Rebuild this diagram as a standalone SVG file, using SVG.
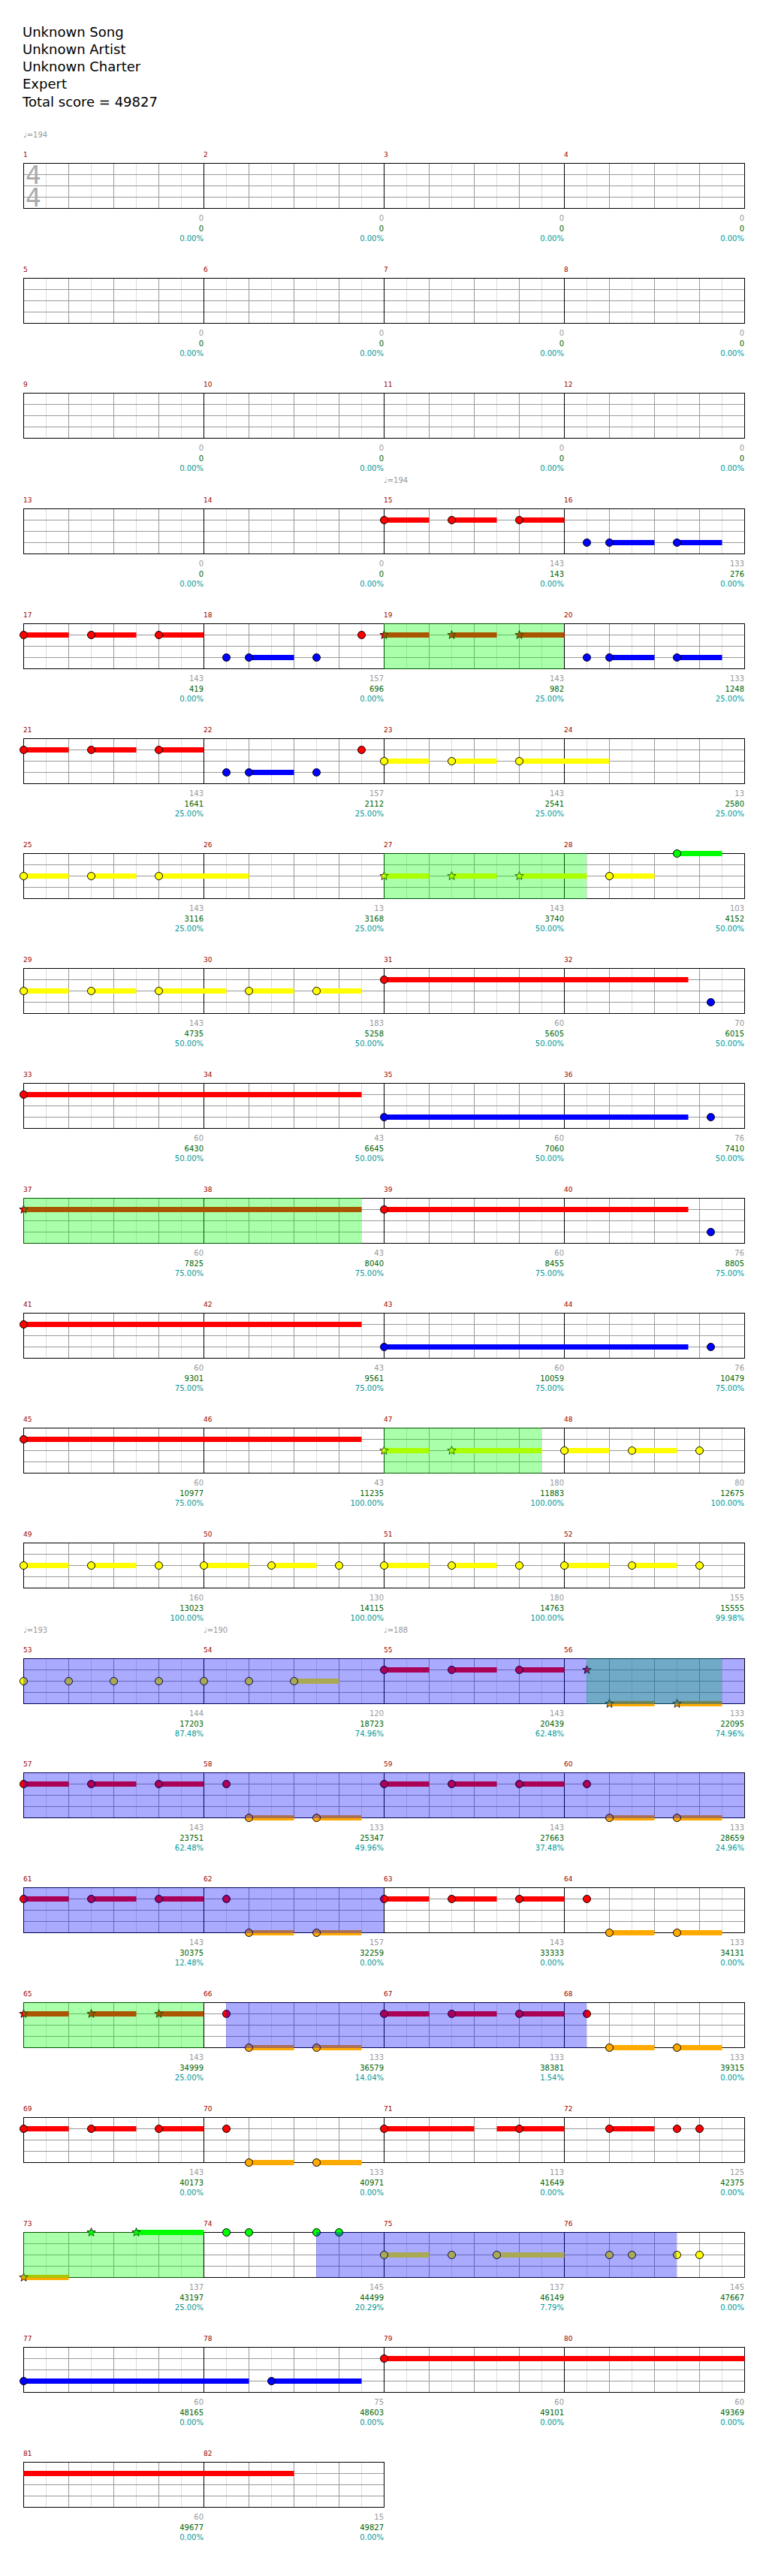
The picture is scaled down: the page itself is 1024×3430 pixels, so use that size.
<svg xmlns="http://www.w3.org/2000/svg" xmlns:xlink="http://www.w3.org/1999/xlink" width="1024" height="3430" viewBox="0 0 1024 3430">
<style>
text{font-family:"DejaVu Sans","Liberation Sans",sans-serif}
.h{font-size:18px;fill:#000}
.mn{font-size:9px;fill:#900}
.tp{font-size:10px;fill:#999}
.ts{font-size:33px;fill:#aaa}
.sc{font-size:10px;text-anchor:end}
.s1{fill:#999}.s2{fill:#006400}.s3{fill:#009999}
.lt{stroke:#ddd;stroke-width:1;fill:none}
.dk{stroke:#999;stroke-width:1;fill:none}
.bl{stroke:#000;stroke-width:1;fill:none}
.sus{stroke-width:7;fill:none}
.R{stroke:#f00}.Y{stroke:#ff0}.B{stroke:#00f}.G{stroke:#0f0}.O{stroke:#fa0}
circle{stroke:#000;stroke-width:1}
.r{fill:#f00}.y{fill:#ff0}.b{fill:#00f}.g{fill:#0f0}.o{fill:#fa0}
.sp{fill:#0f0;fill-opacity:0.333}
.so{fill:#00f;fill-opacity:0.333}
</style>
<defs>
<g id="m">
<path class="lt" d="M30.5 0.5V60.5M90.5 0.5V60.5M150.5 0.5V60.5M210.5 0.5V60.5"/>
<path class="dk" d="M60.5 0.5V60.5M120.5 0.5V60.5M180.5 0.5V60.5M0 15.5H240M0 30.5H240M0 45.5H240"/>
</g>
<g id="st4">
<use xlink:href="#m" x="31"/><use xlink:href="#m" x="271"/><use xlink:href="#m" x="511"/><use xlink:href="#m" x="751"/>
<path class="bl" d="M271.5 0.5V60.5M511.5 0.5V60.5M751.5 0.5V60.5"/>
<rect class="bl" x="31.5" y="0.5" width="960" height="60"/>
</g>
<g id="st2">
<use xlink:href="#m" x="31"/><use xlink:href="#m" x="271"/>
<path class="bl" d="M271.5 0.5V60.5"/>
<rect class="bl" x="31.5" y="0.5" width="480" height="60"/>
</g>
<path id="star" d="M0-6L1.5-2.1L5.7-1.9L2.4 0.8L3.5 4.9L0 2.5L-3.5 4.9L-2.4 0.8L-5.7-1.9L-1.5-2.1Z" stroke="#000" stroke-width="0.8"/>
</defs>

<g id="header">
<text class="h" x="30" y="48.5">Unknown Song</text>
<text class="h" x="30" y="71.8">Unknown Artist</text>
<text class="h" x="30" y="95">Unknown Charter</text>
<text class="h" x="30" y="118.3">Expert</text>
<text class="h" x="30" y="141.5">Total score = 49827</text>
</g>

<g id="row1" transform="translate(0,217)">
<text class="tp" x="31" y="-34.5">♩=194</text>
<use xlink:href="#st4"/>
<text class="ts" x="34" y="28">4</text><text class="ts" x="34" y="58">4</text>
<text class="mn" x="31" y="-8">1</text><text class="mn" x="271" y="-8">2</text><text class="mn" x="511" y="-8">3</text><text class="mn" x="751" y="-8">4</text>
<text class="sc"><tspan class="s1" x="271" y="77">0</tspan><tspan class="s2" x="271" y="90.5">0</tspan><tspan class="s3" x="271" y="104">0.00%</tspan><tspan class="s1" x="511" y="77">0</tspan><tspan class="s2" x="511" y="90.5">0</tspan><tspan class="s3" x="511" y="104">0.00%</tspan><tspan class="s1" x="751" y="77">0</tspan><tspan class="s2" x="751" y="90.5">0</tspan><tspan class="s3" x="751" y="104">0.00%</tspan><tspan class="s1" x="991" y="77">0</tspan><tspan class="s2" x="991" y="90.5">0</tspan><tspan class="s3" x="991" y="104">0.00%</tspan></text>
</g>

<g id="row2" transform="translate(0,370)">
<use xlink:href="#st4"/>
<text class="mn" x="31" y="-8">5</text><text class="mn" x="271" y="-8">6</text><text class="mn" x="511" y="-8">7</text><text class="mn" x="751" y="-8">8</text>
<text class="sc"><tspan class="s1" x="271" y="77">0</tspan><tspan class="s2" x="271" y="90.5">0</tspan><tspan class="s3" x="271" y="104">0.00%</tspan><tspan class="s1" x="511" y="77">0</tspan><tspan class="s2" x="511" y="90.5">0</tspan><tspan class="s3" x="511" y="104">0.00%</tspan><tspan class="s1" x="751" y="77">0</tspan><tspan class="s2" x="751" y="90.5">0</tspan><tspan class="s3" x="751" y="104">0.00%</tspan><tspan class="s1" x="991" y="77">0</tspan><tspan class="s2" x="991" y="90.5">0</tspan><tspan class="s3" x="991" y="104">0.00%</tspan></text>
</g>

<g id="row3" transform="translate(0,523)">
<use xlink:href="#st4"/>
<text class="mn" x="31" y="-8">9</text><text class="mn" x="271" y="-8">10</text><text class="mn" x="511" y="-8">11</text><text class="mn" x="751" y="-8">12</text>
<text class="sc"><tspan class="s1" x="271" y="77">0</tspan><tspan class="s2" x="271" y="90.5">0</tspan><tspan class="s3" x="271" y="104">0.00%</tspan><tspan class="s1" x="511" y="77">0</tspan><tspan class="s2" x="511" y="90.5">0</tspan><tspan class="s3" x="511" y="104">0.00%</tspan><tspan class="s1" x="751" y="77">0</tspan><tspan class="s2" x="751" y="90.5">0</tspan><tspan class="s3" x="751" y="104">0.00%</tspan><tspan class="s1" x="991" y="77">0</tspan><tspan class="s2" x="991" y="90.5">0</tspan><tspan class="s3" x="991" y="104">0.00%</tspan></text>
</g>

<g id="row4" transform="translate(0,677)">
<text class="tp" x="511" y="-34.5">♩=194</text>
<use xlink:href="#st4"/>
<text class="mn" x="31" y="-8">13</text><text class="mn" x="271" y="-8">14</text><text class="mn" x="511" y="-8">15</text><text class="mn" x="751" y="-8">16</text>
<text class="sc"><tspan class="s1" x="271" y="77">0</tspan><tspan class="s2" x="271" y="90.5">0</tspan><tspan class="s3" x="271" y="104">0.00%</tspan><tspan class="s1" x="511" y="77">0</tspan><tspan class="s2" x="511" y="90.5">0</tspan><tspan class="s3" x="511" y="104">0.00%</tspan><tspan class="s1" x="751" y="77">143</tspan><tspan class="s2" x="751" y="90.5">143</tspan><tspan class="s3" x="751" y="104">0.00%</tspan><tspan class="s1" x="991" y="77">133</tspan><tspan class="s2" x="991" y="90.5">276</tspan><tspan class="s3" x="991" y="104">0.00%</tspan></text>
<path class="sus R" d="M511.5 15.5H571.5M601.5 15.5H661.5M691.5 15.5H751.5"/>
<path class="sus B" d="M811.5 45.5H871.5M901.5 45.5H961.5"/>
<circle class="r" cx="511.5" cy="15.5" r="5"/><circle class="r" cx="601.5" cy="15.5" r="5"/><circle class="r" cx="691.5" cy="15.5" r="5"/>
<circle class="b" cx="781.5" cy="45.5" r="5"/><circle class="b" cx="811.5" cy="45.5" r="5"/><circle class="b" cx="901.5" cy="45.5" r="5"/>
</g>

<g id="row5" transform="translate(0,830)">
<use xlink:href="#st4"/>
<text class="mn" x="31" y="-8">17</text><text class="mn" x="271" y="-8">18</text><text class="mn" x="511" y="-8">19</text><text class="mn" x="751" y="-8">20</text>
<text class="sc"><tspan class="s1" x="271" y="77">143</tspan><tspan class="s2" x="271" y="90.5">419</tspan><tspan class="s3" x="271" y="104">0.00%</tspan><tspan class="s1" x="511" y="77">157</tspan><tspan class="s2" x="511" y="90.5">696</tspan><tspan class="s3" x="511" y="104">0.00%</tspan><tspan class="s1" x="751" y="77">143</tspan><tspan class="s2" x="751" y="90.5">982</tspan><tspan class="s3" x="751" y="104">25.00%</tspan><tspan class="s1" x="991" y="77">133</tspan><tspan class="s2" x="991" y="90.5">1248</tspan><tspan class="s3" x="991" y="104">25.00%</tspan></text>
<path class="sus R" d="M31.5 15.5H91.5M121.5 15.5H181.5M211.5 15.5H271.5M511.5 15.5H571.5M601.5 15.5H661.5M691.5 15.5H751.5"/>
<path class="sus B" d="M331.5 45.5H391.5M811.5 45.5H871.5M901.5 45.5H961.5"/>
<circle class="r" cx="31.5" cy="15.5" r="5"/><circle class="r" cx="121.5" cy="15.5" r="5"/><circle class="r" cx="211.5" cy="15.5" r="5"/><circle class="r" cx="481.5" cy="15.5" r="5"/>
<circle class="b" cx="301.5" cy="45.5" r="5"/><circle class="b" cx="331.5" cy="45.5" r="5"/><circle class="b" cx="421.5" cy="45.5" r="5"/>
<circle class="b" cx="781.5" cy="45.5" r="5"/><circle class="b" cx="811.5" cy="45.5" r="5"/><circle class="b" cx="901.5" cy="45.5" r="5"/>
<use xlink:href="#star" x="511.5" y="15.5" fill="#f00"/><use xlink:href="#star" x="601.5" y="15.5" fill="#f00"/><use xlink:href="#star" x="691.5" y="15.5" fill="#f00"/>
<rect class="sp" x="511" y="0" width="240" height="61"/>
</g>

<g id="row6" transform="translate(0,983)">
<use xlink:href="#st4"/>
<text class="mn" x="31" y="-8">21</text><text class="mn" x="271" y="-8">22</text><text class="mn" x="511" y="-8">23</text><text class="mn" x="751" y="-8">24</text>
<text class="sc"><tspan class="s1" x="271" y="77">143</tspan><tspan class="s2" x="271" y="90.5">1641</tspan><tspan class="s3" x="271" y="104">25.00%</tspan><tspan class="s1" x="511" y="77">157</tspan><tspan class="s2" x="511" y="90.5">2112</tspan><tspan class="s3" x="511" y="104">25.00%</tspan><tspan class="s1" x="751" y="77">143</tspan><tspan class="s2" x="751" y="90.5">2541</tspan><tspan class="s3" x="751" y="104">25.00%</tspan><tspan class="s1" x="991" y="77">13</tspan><tspan class="s2" x="991" y="90.5">2580</tspan><tspan class="s3" x="991" y="104">25.00%</tspan></text>
<path class="sus R" d="M31.5 15.5H91.5M121.5 15.5H181.5M211.5 15.5H271.5"/>
<path class="sus B" d="M331.5 45.5H391.5"/>
<path class="sus Y" d="M511.5 30.5H571.5M601.5 30.5H661.5M691.5 30.5H811.5"/>
<circle class="r" cx="31.5" cy="15.5" r="5"/><circle class="r" cx="121.5" cy="15.5" r="5"/><circle class="r" cx="211.5" cy="15.5" r="5"/><circle class="r" cx="481.5" cy="15.5" r="5"/>
<circle class="b" cx="301.5" cy="45.5" r="5"/><circle class="b" cx="331.5" cy="45.5" r="5"/><circle class="b" cx="421.5" cy="45.5" r="5"/>
<circle class="y" cx="511.5" cy="30.5" r="5"/><circle class="y" cx="601.5" cy="30.5" r="5"/><circle class="y" cx="691.5" cy="30.5" r="5"/>
</g>

<g id="row7" transform="translate(0,1136)">
<use xlink:href="#st4"/>
<text class="mn" x="31" y="-8">25</text><text class="mn" x="271" y="-8">26</text><text class="mn" x="511" y="-8">27</text><text class="mn" x="751" y="-8">28</text>
<text class="sc"><tspan class="s1" x="271" y="77">143</tspan><tspan class="s2" x="271" y="90.5">3116</tspan><tspan class="s3" x="271" y="104">25.00%</tspan><tspan class="s1" x="511" y="77">13</tspan><tspan class="s2" x="511" y="90.5">3168</tspan><tspan class="s3" x="511" y="104">25.00%</tspan><tspan class="s1" x="751" y="77">143</tspan><tspan class="s2" x="751" y="90.5">3740</tspan><tspan class="s3" x="751" y="104">50.00%</tspan><tspan class="s1" x="991" y="77">103</tspan><tspan class="s2" x="991" y="90.5">4152</tspan><tspan class="s3" x="991" y="104">50.00%</tspan></text>
<path class="sus Y" d="M31.5 30.5H91.5M121.5 30.5H181.5M211.5 30.5H331.5M511.5 30.5H571.5M601.5 30.5H661.5M691.5 30.5H781.5M811.5 30.5H871.5"/>
<path class="sus G" d="M901.5 0.5H961.5"/>
<circle class="y" cx="31.5" cy="30.5" r="5"/><circle class="y" cx="121.5" cy="30.5" r="5"/><circle class="y" cx="211.5" cy="30.5" r="5"/><circle class="y" cx="811.5" cy="30.5" r="5"/>
<circle class="g" cx="901.5" cy="0.5" r="5"/>
<use xlink:href="#star" x="511.5" y="30.5" fill="#ff0"/><use xlink:href="#star" x="601.5" y="30.5" fill="#ff0"/><use xlink:href="#star" x="691.5" y="30.5" fill="#ff0"/>
<rect class="sp" x="511" y="0" width="270" height="61"/>
</g>

<g id="row8" transform="translate(0,1289)">
<use xlink:href="#st4"/>
<text class="mn" x="31" y="-8">29</text><text class="mn" x="271" y="-8">30</text><text class="mn" x="511" y="-8">31</text><text class="mn" x="751" y="-8">32</text>
<text class="sc"><tspan class="s1" x="271" y="77">143</tspan><tspan class="s2" x="271" y="90.5">4735</tspan><tspan class="s3" x="271" y="104">50.00%</tspan><tspan class="s1" x="511" y="77">183</tspan><tspan class="s2" x="511" y="90.5">5258</tspan><tspan class="s3" x="511" y="104">50.00%</tspan><tspan class="s1" x="751" y="77">60</tspan><tspan class="s2" x="751" y="90.5">5605</tspan><tspan class="s3" x="751" y="104">50.00%</tspan><tspan class="s1" x="991" y="77">70</tspan><tspan class="s2" x="991" y="90.5">6015</tspan><tspan class="s3" x="991" y="104">50.00%</tspan></text>
<path class="sus Y" d="M31.5 30.5H91.5M121.5 30.5H181.5M211.5 30.5H301.5M331.5 30.5H391.5M421.5 30.5H481.5"/>
<path class="sus R" d="M511.5 15.5H916.5"/>
<circle class="y" cx="31.5" cy="30.5" r="5"/><circle class="y" cx="121.5" cy="30.5" r="5"/><circle class="y" cx="211.5" cy="30.5" r="5"/><circle class="y" cx="331.5" cy="30.5" r="5"/><circle class="y" cx="421.5" cy="30.5" r="5"/>
<circle class="r" cx="511.5" cy="15.5" r="5"/><circle class="b" cx="946.5" cy="45.5" r="5"/>
</g>

<g id="row9" transform="translate(0,1442)">
<use xlink:href="#st4"/>
<text class="mn" x="31" y="-8">33</text><text class="mn" x="271" y="-8">34</text><text class="mn" x="511" y="-8">35</text><text class="mn" x="751" y="-8">36</text>
<text class="sc"><tspan class="s1" x="271" y="77">60</tspan><tspan class="s2" x="271" y="90.5">6430</tspan><tspan class="s3" x="271" y="104">50.00%</tspan><tspan class="s1" x="511" y="77">43</tspan><tspan class="s2" x="511" y="90.5">6645</tspan><tspan class="s3" x="511" y="104">50.00%</tspan><tspan class="s1" x="751" y="77">60</tspan><tspan class="s2" x="751" y="90.5">7060</tspan><tspan class="s3" x="751" y="104">50.00%</tspan><tspan class="s1" x="991" y="77">76</tspan><tspan class="s2" x="991" y="90.5">7410</tspan><tspan class="s3" x="991" y="104">50.00%</tspan></text>
<path class="sus R" d="M31.5 15.5H481.5"/>
<path class="sus B" d="M511.5 45.5H916.5"/>
<circle class="r" cx="31.5" cy="15.5" r="5"/><circle class="b" cx="511.5" cy="45.5" r="5"/><circle class="b" cx="946.5" cy="45.5" r="5"/>
</g>

<g id="row10" transform="translate(0,1595)">
<use xlink:href="#st4"/>
<text class="mn" x="31" y="-8">37</text><text class="mn" x="271" y="-8">38</text><text class="mn" x="511" y="-8">39</text><text class="mn" x="751" y="-8">40</text>
<text class="sc"><tspan class="s1" x="271" y="77">60</tspan><tspan class="s2" x="271" y="90.5">7825</tspan><tspan class="s3" x="271" y="104">75.00%</tspan><tspan class="s1" x="511" y="77">43</tspan><tspan class="s2" x="511" y="90.5">8040</tspan><tspan class="s3" x="511" y="104">75.00%</tspan><tspan class="s1" x="751" y="77">60</tspan><tspan class="s2" x="751" y="90.5">8455</tspan><tspan class="s3" x="751" y="104">75.00%</tspan><tspan class="s1" x="991" y="77">76</tspan><tspan class="s2" x="991" y="90.5">8805</tspan><tspan class="s3" x="991" y="104">75.00%</tspan></text>
<path class="sus R" d="M31.5 15.5H481.5M511.5 15.5H916.5"/>
<circle class="r" cx="511.5" cy="15.5" r="5"/><circle class="b" cx="946.5" cy="45.5" r="5"/>
<use xlink:href="#star" x="31.5" y="15.5" fill="#f00"/>
<rect class="sp" x="31" y="0" width="450" height="61"/>
</g>

<g id="row11" transform="translate(0,1748)">
<use xlink:href="#st4"/>
<text class="mn" x="31" y="-8">41</text><text class="mn" x="271" y="-8">42</text><text class="mn" x="511" y="-8">43</text><text class="mn" x="751" y="-8">44</text>
<text class="sc"><tspan class="s1" x="271" y="77">60</tspan><tspan class="s2" x="271" y="90.5">9301</tspan><tspan class="s3" x="271" y="104">75.00%</tspan><tspan class="s1" x="511" y="77">43</tspan><tspan class="s2" x="511" y="90.5">9561</tspan><tspan class="s3" x="511" y="104">75.00%</tspan><tspan class="s1" x="751" y="77">60</tspan><tspan class="s2" x="751" y="90.5">10059</tspan><tspan class="s3" x="751" y="104">75.00%</tspan><tspan class="s1" x="991" y="77">76</tspan><tspan class="s2" x="991" y="90.5">10479</tspan><tspan class="s3" x="991" y="104">75.00%</tspan></text>
<path class="sus R" d="M31.5 15.5H481.5"/>
<path class="sus B" d="M511.5 45.5H916.5"/>
<circle class="r" cx="31.5" cy="15.5" r="5"/><circle class="b" cx="511.5" cy="45.5" r="5"/><circle class="b" cx="946.5" cy="45.5" r="5"/>
</g>

<g id="row12" transform="translate(0,1901)">
<use xlink:href="#st4"/>
<text class="mn" x="31" y="-8">45</text><text class="mn" x="271" y="-8">46</text><text class="mn" x="511" y="-8">47</text><text class="mn" x="751" y="-8">48</text>
<text class="sc"><tspan class="s1" x="271" y="77">60</tspan><tspan class="s2" x="271" y="90.5">10977</tspan><tspan class="s3" x="271" y="104">75.00%</tspan><tspan class="s1" x="511" y="77">43</tspan><tspan class="s2" x="511" y="90.5">11235</tspan><tspan class="s3" x="511" y="104">100.00%</tspan><tspan class="s1" x="751" y="77">180</tspan><tspan class="s2" x="751" y="90.5">11883</tspan><tspan class="s3" x="751" y="104">100.00%</tspan><tspan class="s1" x="991" y="77">80</tspan><tspan class="s2" x="991" y="90.5">12675</tspan><tspan class="s3" x="991" y="104">100.00%</tspan></text>
<path class="sus R" d="M31.5 15.5H481.5"/>
<path class="sus Y" d="M511.5 30.5H571.5M601.5 30.5H721.5M751.5 30.5H811.5M841.5 30.5H901.5"/>
<circle class="r" cx="31.5" cy="15.5" r="5"/>
<circle class="y" cx="751.5" cy="30.5" r="5"/><circle class="y" cx="841.5" cy="30.5" r="5"/><circle class="y" cx="931.5" cy="30.5" r="5"/>
<use xlink:href="#star" x="511.5" y="30.5" fill="#ff0"/><use xlink:href="#star" x="601.5" y="30.5" fill="#ff0"/>
<rect class="sp" x="511" y="0" width="210" height="61"/>
</g>

<g id="row13" transform="translate(0,2054)">
<use xlink:href="#st4"/>
<text class="mn" x="31" y="-8">49</text><text class="mn" x="271" y="-8">50</text><text class="mn" x="511" y="-8">51</text><text class="mn" x="751" y="-8">52</text>
<text class="sc"><tspan class="s1" x="271" y="77">160</tspan><tspan class="s2" x="271" y="90.5">13023</tspan><tspan class="s3" x="271" y="104">100.00%</tspan><tspan class="s1" x="511" y="77">130</tspan><tspan class="s2" x="511" y="90.5">14115</tspan><tspan class="s3" x="511" y="104">100.00%</tspan><tspan class="s1" x="751" y="77">180</tspan><tspan class="s2" x="751" y="90.5">14763</tspan><tspan class="s3" x="751" y="104">100.00%</tspan><tspan class="s1" x="991" y="77">155</tspan><tspan class="s2" x="991" y="90.5">15555</tspan><tspan class="s3" x="991" y="104">99.98%</tspan></text>
<path class="sus Y" d="M31.5 30.5H91.5M121.5 30.5H181.5M271.5 30.5H331.5M361.5 30.5H421.5M511.5 30.5H571.5M601.5 30.5H661.5M751.5 30.5H811.5M841.5 30.5H901.5"/>
<circle class="y" cx="31.5" cy="30.5" r="5"/><circle class="y" cx="121.5" cy="30.5" r="5"/><circle class="y" cx="211.5" cy="30.5" r="5"/><circle class="y" cx="271.5" cy="30.5" r="5"/><circle class="y" cx="361.5" cy="30.5" r="5"/><circle class="y" cx="451.5" cy="30.5" r="5"/><circle class="y" cx="511.5" cy="30.5" r="5"/><circle class="y" cx="601.5" cy="30.5" r="5"/><circle class="y" cx="691.5" cy="30.5" r="5"/><circle class="y" cx="751.5" cy="30.5" r="5"/><circle class="y" cx="841.5" cy="30.5" r="5"/><circle class="y" cx="931.5" cy="30.5" r="5"/>
</g>

<g id="row14" transform="translate(0,2208)">
<text class="tp" x="31" y="-34.5">♩=193</text><text class="tp" x="271" y="-34.5">♩=190</text><text class="tp" x="511" y="-34.5">♩=188</text>
<use xlink:href="#st4"/>
<text class="mn" x="31" y="-8">53</text><text class="mn" x="271" y="-8">54</text><text class="mn" x="511" y="-8">55</text><text class="mn" x="751" y="-8">56</text>
<text class="sc"><tspan class="s1" x="271" y="77">144</tspan><tspan class="s2" x="271" y="90.5">17203</tspan><tspan class="s3" x="271" y="104">87.48%</tspan><tspan class="s1" x="511" y="77">120</tspan><tspan class="s2" x="511" y="90.5">18723</tspan><tspan class="s3" x="511" y="104">74.96%</tspan><tspan class="s1" x="751" y="77">143</tspan><tspan class="s2" x="751" y="90.5">20439</tspan><tspan class="s3" x="751" y="104">62.48%</tspan><tspan class="s1" x="991" y="77">133</tspan><tspan class="s2" x="991" y="90.5">22095</tspan><tspan class="s3" x="991" y="104">74.96%</tspan></text>
<path class="sus Y" d="M391.5 30.5H451.5"/>
<path class="sus R" d="M511.5 15.5H571.5M601.5 15.5H661.5M691.5 15.5H751.5"/>
<path class="sus O" d="M811.5 60.5H871.5M901.5 60.5H961.5"/>
<circle class="y" cx="31.5" cy="30.5" r="5"/><circle class="y" cx="91.5" cy="30.5" r="5"/><circle class="y" cx="151.5" cy="30.5" r="5"/><circle class="y" cx="211.5" cy="30.5" r="5"/><circle class="y" cx="271.5" cy="30.5" r="5"/><circle class="y" cx="331.5" cy="30.5" r="5"/><circle class="y" cx="391.5" cy="30.5" r="5"/>
<circle class="r" cx="511.5" cy="15.5" r="5"/><circle class="r" cx="601.5" cy="15.5" r="5"/><circle class="r" cx="691.5" cy="15.5" r="5"/>
<use xlink:href="#star" x="781.5" y="15.5" fill="#f00"/><use xlink:href="#star" x="811.5" y="60.5" fill="#fa0"/><use xlink:href="#star" x="901.5" y="60.5" fill="#fa0"/>
<rect class="sp" x="781" y="0" width="180" height="61"/>
<rect class="so" x="31" y="0" width="960" height="61"/>
</g>

<g id="row15" transform="translate(0,2360)">
<use xlink:href="#st4"/>
<text class="mn" x="31" y="-8">57</text><text class="mn" x="271" y="-8">58</text><text class="mn" x="511" y="-8">59</text><text class="mn" x="751" y="-8">60</text>
<text class="sc"><tspan class="s1" x="271" y="77">143</tspan><tspan class="s2" x="271" y="90.5">23751</tspan><tspan class="s3" x="271" y="104">62.48%</tspan><tspan class="s1" x="511" y="77">133</tspan><tspan class="s2" x="511" y="90.5">25347</tspan><tspan class="s3" x="511" y="104">49.96%</tspan><tspan class="s1" x="751" y="77">143</tspan><tspan class="s2" x="751" y="90.5">27663</tspan><tspan class="s3" x="751" y="104">37.48%</tspan><tspan class="s1" x="991" y="77">133</tspan><tspan class="s2" x="991" y="90.5">28659</tspan><tspan class="s3" x="991" y="104">24.96%</tspan></text>
<path class="sus R" d="M31.5 15.5H91.5M121.5 15.5H181.5M211.5 15.5H271.5M511.5 15.5H571.5M601.5 15.5H661.5M691.5 15.5H751.5"/>
<path class="sus O" d="M331.5 60.5H391.5M421.5 60.5H481.5M811.5 60.5H871.5M901.5 60.5H961.5"/>
<circle class="r" cx="31.5" cy="15.5" r="5"/><circle class="r" cx="121.5" cy="15.5" r="5"/><circle class="r" cx="211.5" cy="15.5" r="5"/><circle class="r" cx="301.5" cy="15.5" r="5"/><circle class="r" cx="511.5" cy="15.5" r="5"/><circle class="r" cx="601.5" cy="15.5" r="5"/><circle class="r" cx="691.5" cy="15.5" r="5"/><circle class="r" cx="781.5" cy="15.5" r="5"/>
<circle class="o" cx="331.5" cy="60.5" r="5"/><circle class="o" cx="421.5" cy="60.5" r="5"/><circle class="o" cx="811.5" cy="60.5" r="5"/><circle class="o" cx="901.5" cy="60.5" r="5"/>
<rect class="so" x="31" y="0" width="960" height="61"/>
</g>

<g id="row16" transform="translate(0,2513)">
<use xlink:href="#st4"/>
<text class="mn" x="31" y="-8">61</text><text class="mn" x="271" y="-8">62</text><text class="mn" x="511" y="-8">63</text><text class="mn" x="751" y="-8">64</text>
<text class="sc"><tspan class="s1" x="271" y="77">143</tspan><tspan class="s2" x="271" y="90.5">30375</tspan><tspan class="s3" x="271" y="104">12.48%</tspan><tspan class="s1" x="511" y="77">157</tspan><tspan class="s2" x="511" y="90.5">32259</tspan><tspan class="s3" x="511" y="104">0.00%</tspan><tspan class="s1" x="751" y="77">143</tspan><tspan class="s2" x="751" y="90.5">33333</tspan><tspan class="s3" x="751" y="104">0.00%</tspan><tspan class="s1" x="991" y="77">133</tspan><tspan class="s2" x="991" y="90.5">34131</tspan><tspan class="s3" x="991" y="104">0.00%</tspan></text>
<path class="sus R" d="M31.5 15.5H91.5M121.5 15.5H181.5M211.5 15.5H271.5M511.5 15.5H571.5M601.5 15.5H661.5M691.5 15.5H751.5"/>
<path class="sus O" d="M331.5 60.5H391.5M421.5 60.5H481.5M811.5 60.5H871.5M901.5 60.5H961.5"/>
<circle class="r" cx="31.5" cy="15.5" r="5"/><circle class="r" cx="121.5" cy="15.5" r="5"/><circle class="r" cx="211.5" cy="15.5" r="5"/><circle class="r" cx="301.5" cy="15.5" r="5"/><circle class="r" cx="511.5" cy="15.5" r="5"/><circle class="r" cx="601.5" cy="15.5" r="5"/><circle class="r" cx="691.5" cy="15.5" r="5"/><circle class="r" cx="781.5" cy="15.5" r="5"/>
<circle class="o" cx="331.5" cy="60.5" r="5"/><circle class="o" cx="421.5" cy="60.5" r="5"/><circle class="o" cx="811.5" cy="60.5" r="5"/><circle class="o" cx="901.5" cy="60.5" r="5"/>
<rect class="so" x="31" y="0" width="480" height="61"/>
</g>

<g id="row17" transform="translate(0,2666)">
<use xlink:href="#st4"/>
<text class="mn" x="31" y="-8">65</text><text class="mn" x="271" y="-8">66</text><text class="mn" x="511" y="-8">67</text><text class="mn" x="751" y="-8">68</text>
<text class="sc"><tspan class="s1" x="271" y="77">143</tspan><tspan class="s2" x="271" y="90.5">34999</tspan><tspan class="s3" x="271" y="104">25.00%</tspan><tspan class="s1" x="511" y="77">133</tspan><tspan class="s2" x="511" y="90.5">36579</tspan><tspan class="s3" x="511" y="104">14.04%</tspan><tspan class="s1" x="751" y="77">133</tspan><tspan class="s2" x="751" y="90.5">38381</tspan><tspan class="s3" x="751" y="104">1.54%</tspan><tspan class="s1" x="991" y="77">133</tspan><tspan class="s2" x="991" y="90.5">39315</tspan><tspan class="s3" x="991" y="104">0.00%</tspan></text>
<path class="sus R" d="M31.5 15.5H91.5M121.5 15.5H181.5M211.5 15.5H271.5M511.5 15.5H571.5M601.5 15.5H661.5M691.5 15.5H751.5"/>
<path class="sus O" d="M331.5 60.5H391.5M421.5 60.5H481.5M811.5 60.5H871.5M901.5 60.5H961.5"/>
<circle class="r" cx="301.5" cy="15.5" r="5"/><circle class="r" cx="511.5" cy="15.5" r="5"/><circle class="r" cx="601.5" cy="15.5" r="5"/><circle class="r" cx="691.5" cy="15.5" r="5"/><circle class="r" cx="781.5" cy="15.5" r="5"/>
<circle class="o" cx="331.5" cy="60.5" r="5"/><circle class="o" cx="421.5" cy="60.5" r="5"/><circle class="o" cx="811.5" cy="60.5" r="5"/><circle class="o" cx="901.5" cy="60.5" r="5"/>
<use xlink:href="#star" x="31.5" y="15.5" fill="#f00"/><use xlink:href="#star" x="121.5" y="15.5" fill="#f00"/><use xlink:href="#star" x="211.5" y="15.5" fill="#f00"/>
<rect class="sp" x="31" y="0" width="240" height="61"/>
<rect class="so" x="301" y="0" width="480" height="61"/>
</g>

<g id="row18" transform="translate(0,2819)">
<use xlink:href="#st4"/>
<text class="mn" x="31" y="-8">69</text><text class="mn" x="271" y="-8">70</text><text class="mn" x="511" y="-8">71</text><text class="mn" x="751" y="-8">72</text>
<text class="sc"><tspan class="s1" x="271" y="77">143</tspan><tspan class="s2" x="271" y="90.5">40173</tspan><tspan class="s3" x="271" y="104">0.00%</tspan><tspan class="s1" x="511" y="77">133</tspan><tspan class="s2" x="511" y="90.5">40971</tspan><tspan class="s3" x="511" y="104">0.00%</tspan><tspan class="s1" x="751" y="77">113</tspan><tspan class="s2" x="751" y="90.5">41649</tspan><tspan class="s3" x="751" y="104">0.00%</tspan><tspan class="s1" x="991" y="77">125</tspan><tspan class="s2" x="991" y="90.5">42375</tspan><tspan class="s3" x="991" y="104">0.00%</tspan></text>
<path class="sus R" d="M31.5 15.5H91.5M121.5 15.5H181.5M211.5 15.5H271.5M511.5 15.5H631.5M661.5 15.5H751.5M811.5 15.5H871.5"/>
<path class="sus O" d="M331.5 60.5H391.5M421.5 60.5H481.5"/>
<circle class="r" cx="31.5" cy="15.5" r="5"/><circle class="r" cx="121.5" cy="15.5" r="5"/><circle class="r" cx="211.5" cy="15.5" r="5"/><circle class="r" cx="301.5" cy="15.5" r="5"/><circle class="r" cx="511.5" cy="15.5" r="5"/><circle class="r" cx="691.5" cy="15.5" r="5"/><circle class="r" cx="811.5" cy="15.5" r="5"/><circle class="r" cx="901.5" cy="15.5" r="5"/><circle class="r" cx="931.5" cy="15.5" r="5"/>
<circle class="o" cx="331.5" cy="60.5" r="5"/><circle class="o" cx="421.5" cy="60.5" r="5"/>
</g>

<g id="row19" transform="translate(0,2972)">
<use xlink:href="#st4"/>
<text class="mn" x="31" y="-8">73</text><text class="mn" x="271" y="-8">74</text><text class="mn" x="511" y="-8">75</text><text class="mn" x="751" y="-8">76</text>
<text class="sc"><tspan class="s1" x="271" y="77">137</tspan><tspan class="s2" x="271" y="90.5">43197</tspan><tspan class="s3" x="271" y="104">25.00%</tspan><tspan class="s1" x="511" y="77">145</tspan><tspan class="s2" x="511" y="90.5">44499</tspan><tspan class="s3" x="511" y="104">20.29%</tspan><tspan class="s1" x="751" y="77">137</tspan><tspan class="s2" x="751" y="90.5">46149</tspan><tspan class="s3" x="751" y="104">7.79%</tspan><tspan class="s1" x="991" y="77">145</tspan><tspan class="s2" x="991" y="90.5">47667</tspan><tspan class="s3" x="991" y="104">0.00%</tspan></text>
<path class="sus O" d="M31.5 60.5H91.5"/>
<path class="sus G" d="M181.5 0.5H271.5"/>
<path class="sus Y" d="M511.5 30.5H571.5M661.5 30.5H751.5"/>
<circle class="g" cx="301.5" cy="0.5" r="5"/><circle class="g" cx="331.5" cy="0.5" r="5"/><circle class="g" cx="421.5" cy="0.5" r="5"/><circle class="g" cx="451.5" cy="0.5" r="5"/>
<circle class="y" cx="511.5" cy="30.5" r="5"/><circle class="y" cx="601.5" cy="30.5" r="5"/><circle class="y" cx="661.5" cy="30.5" r="5"/><circle class="y" cx="811.5" cy="30.5" r="5"/><circle class="y" cx="841.5" cy="30.5" r="5"/><circle class="y" cx="901.5" cy="30.5" r="5"/><circle class="y" cx="931.5" cy="30.5" r="5"/>
<use xlink:href="#star" x="31.5" y="60.5" fill="#fa0"/><use xlink:href="#star" x="121.5" y="0.5" fill="#0f0"/><use xlink:href="#star" x="181.5" y="0.5" fill="#0f0"/>
<rect class="sp" x="31" y="0" width="240" height="61"/>
<rect class="so" x="421" y="0" width="480" height="61"/>
</g>

<g id="row20" transform="translate(0,3125)">
<use xlink:href="#st4"/>
<text class="mn" x="31" y="-8">77</text><text class="mn" x="271" y="-8">78</text><text class="mn" x="511" y="-8">79</text><text class="mn" x="751" y="-8">80</text>
<text class="sc"><tspan class="s1" x="271" y="77">60</tspan><tspan class="s2" x="271" y="90.5">48165</tspan><tspan class="s3" x="271" y="104">0.00%</tspan><tspan class="s1" x="511" y="77">75</tspan><tspan class="s2" x="511" y="90.5">48603</tspan><tspan class="s3" x="511" y="104">0.00%</tspan><tspan class="s1" x="751" y="77">60</tspan><tspan class="s2" x="751" y="90.5">49101</tspan><tspan class="s3" x="751" y="104">0.00%</tspan><tspan class="s1" x="991" y="77">60</tspan><tspan class="s2" x="991" y="90.5">49369</tspan><tspan class="s3" x="991" y="104">0.00%</tspan></text>
<path class="sus B" d="M31.5 45.5H331.5M361.5 45.5H481.5"/>
<path class="sus R" d="M511.5 15.5H991.5"/>
<circle class="b" cx="31.5" cy="45.5" r="5"/><circle class="b" cx="361.5" cy="45.5" r="5"/><circle class="r" cx="511.5" cy="15.5" r="5"/>
</g>

<g id="row21" transform="translate(0,3278)">
<use xlink:href="#st2"/>
<text class="mn" x="31" y="-8">81</text><text class="mn" x="271" y="-8">82</text>
<text class="sc"><tspan class="s1" x="271" y="77">60</tspan><tspan class="s2" x="271" y="90.5">49677</tspan><tspan class="s3" x="271" y="104">0.00%</tspan><tspan class="s1" x="511" y="77">15</tspan><tspan class="s2" x="511" y="90.5">49827</tspan><tspan class="s3" x="511" y="104">0.00%</tspan></text>
<path class="sus R" d="M31.5 15.5H391.5"/>
</g>
</svg>
